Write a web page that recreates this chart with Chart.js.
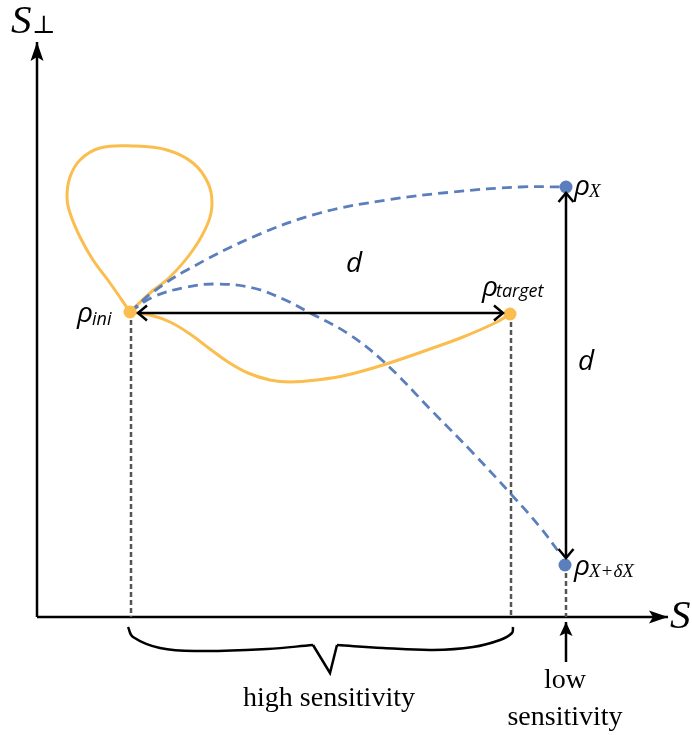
<!DOCTYPE html>
<html><head><meta charset="utf-8">
<script src="https://cdn.jsdelivr.net/npm/chart.js@4.4.1/dist/chart.umd.min.js"></script>
<style>html,body{margin:0;padding:0;background:#fff;overflow:hidden}#wrap{width:692px;height:735px;position:relative}</style>
</head><body><div id="wrap"><canvas id="c" width="692" height="735"></canvas></div>
<script>
// Key states (data coordinates: origin at the axes intersection)
const rhoIni = [{x:93, y:305}];
const rhoTarget = [{x:473, y:303}];
const rhoX = [{x:529, y:430}];
const rhoXdX = [{x:528, y:52}];

// Orange trajectories
const loopPath = [{x:93,y:305},{x:73,y:334},{x:56,y:357},{x:43,y:380},{x:33,y:404},{x:30,y:420},{x:33,y:440},{x:43,y:457},{x:63,y:469},{x:96,y:471},{x:130,y:467},{x:156,y:454},{x:171,y:434},{x:175,y:414},{x:171,y:394},{x:156,y:367},{x:133,y:340},{x:113,y:324},{x:93,y:305}];
const lowerPath = [{x:93,y:305},{x:113,y:302},{x:133,y:295},{x:153,y:283},{x:173,y:268},{x:191,y:255},{x:211,y:244},{x:233,y:237},{x:253,y:235},{x:280,y:237},{x:310,y:242},{x:346,y:252},{x:393,y:268},{x:426,y:280},{x:460,y:295},{x:473,y:303}];

// Blue dashed trajectories
const pathX = [{x:93,y:305},{x:116,y:325},{x:150,y:347},{x:216,y:380},{x:283,y:404},{x:350,y:417},{x:416,y:425},{x:483,y:430},{x:529,y:430}];
const pathXdX = [{x:93,y:305},{x:116,y:320},{x:150,y:330},{x:180,y:333},{x:216,y:329},{x:246,y:318},{x:273,y:304},{x:310,y:284},{x:346,y:256},{x:396,y:205},{x:436,y:164},{x:473,y:124},{x:503,y:90},{x:524,y:62}];

// Projections onto S axis
const dropIni = [{x:94,y:305},{x:94,y:0}];
const dropTarget = [{x:474,y:303},{x:474,y:0}];
const dropXdX = [{x:529,y:52},{x:529,y:0}];

// Axes
const axisS = [{x:0,y:0},{x:631,y:0}];
const axisSperp = [{x:0,y:0},{x:0,y:575}];

// Distance arrows
const arrowH = [{x:101,y:304},{x:466,y:304}];
const arrowV = [{x:529,y:424},{x:529,y:59}];
const arrowLow = [{x:529,y:-45},{x:529,y:-5}];

// Brace under the S axis
const braceLeft = [{x:91,y:-10},{x:96,y:-20},{x:123,y:-31},{x:163,y:-34},{x:230,y:-32},{x:276,y:-28}];
const braceTip = [{x:276,y:-28},{x:293,y:-56},{x:300,y:-28}];
const braceRight = [{x:300,y:-28},{x:346,y:-31},{x:396,y:-33},{x:436,y:-30},{x:463,y:-23},{x:475,y:-16},{x:476,y:-10}];

const ORANGE = '#FBBD4E', BLUE = '#5B7EBD', GRAY = '#555555', BLACK = '#000';

function line(data, color, width, extra) {
  return Object.assign({data, showLine:true, borderColor:color, borderWidth:width, pointRadius:0, pointHoverRadius:0, fill:false, tension:0}, extra||{});
}
function dot(data, color) {
  return {data, showLine:false, pointRadius:6.5, pointHoverRadius:6.5, backgroundColor:color, borderColor:color, borderWidth:0};
}

const deco = {
  id:'deco',
  afterDatasetsDraw(chart) {
    const {ctx, scales:{x, y}} = chart;
    const P = p => [x.getPixelForValue(p.x), y.getPixelForValue(p.y)];
    ctx.save();
    function filled(tip, from, len, half, notch) {
      const [tx,ty] = P(tip), [fx,fy] = P(from);
      const dx = tx-fx, dy = ty-fy, L = Math.hypot(dx,dy), ux = dx/L, uy = dy/L;
      const bx = tx - ux*len, by = ty - uy*len;
      ctx.beginPath();
      ctx.moveTo(tx,ty);
      ctx.lineTo(bx - uy*half, by + ux*half);
      ctx.lineTo(tx - ux*(len-notch), ty - uy*(len-notch));
      ctx.lineTo(bx + uy*half, by - ux*half);
      ctx.closePath();
      ctx.fillStyle = BLACK; ctx.fill();
    }
    function chevron(tip, from, len, half) {
      const [tx,ty] = P(tip), [fx,fy] = P(from);
      const dx = tx-fx, dy = ty-fy, L = Math.hypot(dx,dy), ux = dx/L, uy = dy/L;
      const bx = tx - ux*len, by = ty - uy*len;
      ctx.beginPath();
      ctx.moveTo(bx - uy*half, by + ux*half);
      ctx.lineTo(tx,ty);
      ctx.lineTo(bx + uy*half, by - ux*half);
      ctx.strokeStyle = BLACK; ctx.lineWidth = 2.5; ctx.lineJoin='miter'; ctx.lineCap='butt';
      ctx.stroke();
    }
    filled(axisS[1], axisS[0], 19, 6.5, 4);
    filled(axisSperp[1], axisSperp[0], 19, 6.5, 4);
    filled(arrowLow[1], arrowLow[0], 14, 6.5, 3);
    chevron(arrowH[0], arrowH[1], 9, 7.5);
    chevron(arrowH[1], arrowH[0], 9, 7.5);
    chevron(arrowV[0], arrowV[1], 9, 7.5);
    chevron(arrowV[1], arrowV[0], 9, 7.5);

    ctx.fillStyle = BLACK;
    ctx.textBaseline = 'alphabetic';
    function txt(s, px, py, font, align) {
      ctx.font = font; ctx.textAlign = align || 'left'; ctx.fillText(s, px, py);
    }
    const SERIF = '"Liberation Serif","DejaVu Serif",serif';
    const SANS = '"Open Sans","DejaVu Sans",sans-serif';
    txt('S', 11, 33, 'italic 41px ' + SERIF);
    txt('⊥', 32, 33, '25px "DejaVu Serif",serif');
    txt('S', 670, 628, 'italic 41px ' + SERIF);
    txt('d', 346, 272, 'italic 28px ' + SANS);
    txt('d', 578, 370, 'italic 28px ' + SANS);
    function rho(px, py, sub, subFont, sdx, sdy) {
      ctx.font = 'italic 28px ' + SANS; ctx.textAlign = 'left';
      ctx.fillText('ρ', px, py);
      const w = ctx.measureText('ρ').width;
      ctx.font = subFont; ctx.fillText(sub, px + w + sdx, py + sdy);
    }
    rho(77, 322, 'ini', 'italic 18px ' + SANS, -1, 3);
    rho(482, 296, 'target', 'italic 18px ' + SANS, -2, 1);
    rho(574, 195, 'X', 'italic 19px ' + SERIF, -1, 2);
    rho(574, 575, 'X+δX', 'italic 19px ' + SERIF, -1, 2);
    txt('high sensitivity', 329, 706, '28px ' + SERIF, 'center');
    txt('low', 565, 688, '28px ' + SERIF, 'center');
    txt('sensitivity', 565, 725, '28px ' + SERIF, 'center');
    ctx.restore();
  }
};

const SMOOTH = {tension:0.4};
const DASHED = {tension:0.4, borderDash:[10,6]};
new Chart(document.getElementById('c'), {
  type:'scatter',
  data:{datasets:[
    dot(rhoIni, ORANGE),
    dot(rhoTarget, ORANGE),
    dot(rhoX, BLUE),
    dot(rhoXdX, BLUE),
    line(arrowH, BLACK, 2.5),
    line(arrowV, BLACK, 2.5),
    line(arrowLow, BLACK, 2.5),
    line(pathX, BLUE, 2.8, DASHED),
    line(pathXdX, BLUE, 2.8, DASHED),
    line(loopPath, ORANGE, 3, SMOOTH),
    line(lowerPath, ORANGE, 3, SMOOTH),
    line(dropIni, GRAY, 2.5, {borderDash:[5,3]}),
    line(dropTarget, GRAY, 2.5, {borderDash:[5,3]}),
    line(dropXdX, GRAY, 2.5, {borderDash:[5,3]}),
    line(axisS, BLACK, 2.5),
    line(axisSperp, BLACK, 2.5),
    line(braceLeft, BLACK, 2.5, SMOOTH),
    line(braceTip, BLACK, 2.5),
    line(braceRight, BLACK, 2.5, SMOOTH)
  ]},
  options:{
    responsive:false, animation:false,
    layout:{padding:0, autoPadding:false},
    plugins:{legend:{display:false}, tooltip:{enabled:false}, title:{display:false}},
    events:[],
    scales:{
      x:{type:'linear', min:-37, max:655, display:false},
      y:{type:'linear', min:-118, max:617, display:false}
    }
  },
  plugins:[deco]
});
</script></body></html>
